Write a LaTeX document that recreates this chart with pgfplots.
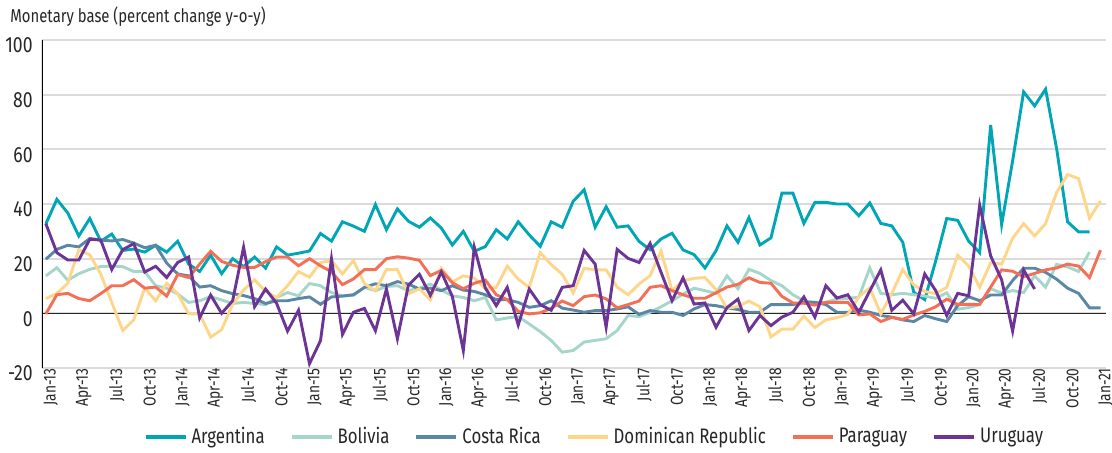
\documentclass[border=0pt]{standalone}
\usepackage{fontspec}
\setmainfont{Fira Sans}[FakeStretch=0.8]
\usepackage{pgfplots}
\usepackage{pgfplotstable}
\pgfplotsset{compat=1.18}

\definecolor{cArg}{HTML}{00A6B5}
\definecolor{cBol}{HTML}{A6D5CA}
\definecolor{cCR}{HTML}{5B87A5}
\definecolor{cDR}{HTML}{FDD68A}
\definecolor{cPar}{HTML}{F36F55}
\definecolor{cUru}{HTML}{6C3595}

% monthly, i=0 is Jan-13
\pgfplotstableread{
i arg bol cr dr par uru
0 32.7 13.7 19.8 5.4 -0.2 32.8
1 41.7 16.7 23.4 7.3 6.8 22.2
2 36.7 12.1 24.9 11 7.3 19.5
3 28.3 14.5 24.3 23.3 5.4 19.5
4 34.7 16.1 27.4 21.4 4.6 27.1
5 26.4 17.1 26.8 14.3 7.2 26.8
6 29 17.3 26.5 4 10.1 16
7 23 17.1 27 -6.3 10.1 23.3
8 23.5 15.3 25.7 -2.4 12.3 25.5
9 22.4 15.3 24 9.2 9.2 15.1
10 24.9 10.1 24.9 4.6 9.6 17.2
11 22.4 9.2 18.4 11 6.3 13.1
12 26.4 7.1 14.4 7.2 14.2 18.6
13 18 4 13.7 -0.2 13.1 20.6
14 15.3 4.6 9.6 -0.2 18 -1.7
15 21.3 6.1 10.1 -8.7 22.7 6.7
16 14.5 4.9 8.3 -6 19 0
17 20 3.6 7.2 3.3 17.6 4.6
18 17.1 4 6.5 8.5 16.8 24.2
19 20.6 3.6 5.4 12.3 16.8 2.4
20 16.5 3.2 3.6 8 18.9 8.9
21 24.3 5.8 4.6 5.8 20.6 3.7
22 21.3 7.6 4.6 10.1 20.6 -6.5
23 22 6.4 5.4 15.3 17.4 1.1
24 22.8 10.9 6 13.2 20 -18.4
25 29.2 10.1 3.3 18.6 17.4 -10
26 26.4 7.6 6 19.3 15.2 20
27 33.5 6.4 6.3 14.4 10.5 -7.7
28 31.9 6.6 6.8 19.3 12.6 0.4
29 30 9.5 9.5 10.8 16 1.8
30 39.8 8.3 10.8 8.3 16 -6.4
31 30.6 9.8 10.1 16 20 8.9
32 38.2 10.1 11.6 16 20.7 -9.3
33 33.7 8.3 10.7 7.1 20.2 10.3
34 31.5 9.2 8.9 9 19.4 14.3
35 34.9 10.7 9.2 4.9 13.8 6.6
36 31.2 8.5 8.3 16.5 15.7 15.1
37 25 6.4 10.1 11.5 11.2 6.2
38 30 5.8 8.5 13.7 9 -13.6
39 22.7 4.6 8 12.9 11 24.2
40 24.4 5.8 6.8 9 12.2 9.3
41 30.6 -2.4 5 9.5 6.8 2.8
42 27.2 -1.7 5 17.3 5 9.5
43 33.5 -1.2 4 12.5 0.7 -4.3
44 28.7 -3.9 2.2 9.5 -0.2 8.9
45 24.5 -6.7 2.8 22.2 0.2 3.2
46 33.5 -9.9 4.6 17.8 1.8 1.1
47 31.5 -14.2 1.9 14.3 4.5 9.5
48 41 -13.6 1.2 7.5 2.8 10.1
49 45.2 -10.5 0.4 16.5 6.1 23
50 31.5 -9.9 1 15.9 6.7 18
51 39 -9.3 1 15.9 5.3 -5.1
52 31.5 -6.3 1.6 9.6 2 23.4
53 32 -0.8 2.4 6.8 3.2 20.1
54 26.3 -1.2 -0.4 10.7 4.5 18.6
55 23.3 0.4 1 13.8 9.5 25.6
56 27.2 2.4 0.4 22.8 10.1 15
57 29.3 4.6 0.4 8.3 8.3 4.6
58 23.2 7 -0.8 11.9 6.8 13
59 21.5 9.2 1.6 12.8 5.5 3.4
60 16.6 8.3 3.2 13.1 5.5 3.8
61 22.9 7.3 2.8 8.7 7.5 -5.1
62 32 13.7 2 1.8 9.6 2.1
63 26 9 1.4 2.5 10.6 5.2
64 35 16.1 0.4 4.5 13 -6.3
65 25 14.6 0.4 2.4 11.3 -0.8
66 27.6 12 3.2 -8.6 11 -4.5
67 44 10.1 3.2 -5.8 6.2 -1.4
68 44 6.8 3.2 -5.8 3.8 0.4
69 32.9 4.6 4 -1 3.7 6
70 40.6 4 4 -5.2 3 -1.4
71 40.6 4 3.2 -2.4 4 10.1
72 40 5.2 0.4 -1.6 4 5.6
73 40 5.5 0.4 -0.4 4 6.8
74 35.7 5.9 1.2 6.1 -0.6 0.4
75 40.4 16.6 0.4 9.3 -0.2 8.2
76 32.9 7.3 -0.8 -0.2 -3 15.9
77 32 6.8 -1.4 7.3 -1.5 1.1
78 26 7.3 -2.4 16 -2.2 4.8
79 7.7 6.8 -3 10.4 -0.6 -0.2
80 5 6.3 -0.8 8 0.7 14.4
81 19.2 5.5 -2 7.2 2.4 8.3
82 34.7 7.5 -3 9.5 5.2 -0.8
83 34 1.5 2.8 21.3 3.3 7.3
84 26.4 2.1 6.1 17.3 3.3 6.4
85 22.2 3.2 4.6 9.5 3.3 39.6
86 68.9 9 6.7 18.5 9.6 21
87 32.5 7.4 6.7 18 15.9 12.3
88 55.8 8.3 12 27.5 15.4 -6.5
89 81 7.6 16.5 32.8 13.4 15.9
90 75.9 13.7 16.5 28.3 14.6 8.9
91 82 9.6 15 32.8 15.9 nan
92 60.4 17.9 12.5 44.2 16.6 nan
93 33.5 17 9.2 50.8 18 nan
94 29.8 15.3 7.3 49.3 17.3 nan
95 29.8 22.4 2 34.8 13.1 nan
96 nan nan 2 41.1 23.1 nan
}\mbase

\begin{document}
\begin{tikzpicture}
\useasboundingbox (-21pt,-42.5pt) rectangle (535pt,184pt);
\begin{axis}[
    at={(0,0)}, anchor=south west,
    scale only axis, width=532pt, height=164pt,
    xmin=-0.35, xmax=96.5, ymin=-20, ymax=100,
    axis line style={draw=none},
    major tick length=0pt,
    xtick={0,3,...,96},
    xticklabels={Jan-13,Apr-13,Jul-13,Oct-13,Jan-14,Apr-14,Jul-14,Oct-14,Jan-15,Apr-15,Jul-15,Oct-15,Jan-16,Apr-16,Jul-16,Oct-16,Jan-17,Apr-17,Jul-17,Oct-17,Jan-18,Apr-18,Jul-18,Oct-18,Jan-19,Apr-19,Jul-19,Oct-19,Jan-20,Apr-20,Jul-20,Oct-20,Jan-21},
    xticklabel style={rotate=90, anchor=east, inner sep=0pt, yshift=-2.5pt, font=\fontsize{8.6}{9}\selectfont, text=black!85},
    ytick={-20,0,20,40,60,80,100},
    yticklabels={-20,0,20,40,60,80,100},
    yticklabel style={anchor=east, inner sep=0pt, xshift=-4.5pt, yshift=-2.8pt, font=\fontsize{11}{12}\selectfont, text=black!85},
    ymajorgrids,
    major grid style={draw=black!14, line width=0.9pt},
    extra y ticks={0}, extra y tick labels={},
    extra y tick style={major grid style={draw=black!85, line width=0.5pt}},
    no markers,
    every axis plot/.append style={line width=1.45pt},
    legend columns=6,
    legend style={at={(0.52,-0.21)}, anchor=center, draw=none, fill=none,
        font=\fontsize{10.5}{11}\selectfont, text=black!85,
        /tikz/every even column/.append style={column sep=10.5pt}},
    legend image code/.code={\draw[#1, line width=2pt] (0pt,0pt) -- (20pt,0pt);},
]
\addplot[cArg] table[x=i, y=arg] {\mbase}; \addlegendentry{Argentina}
\addplot[cBol] table[x=i, y=bol] {\mbase}; \addlegendentry{Bolivia}
\addplot[cCR] table[x=i, y=cr] {\mbase}; \addlegendentry{Costa Rica}
\addplot[cDR] table[x=i, y=dr] {\mbase}; \addlegendentry{Dominican Republic}
\addplot[cPar] table[x=i, y=par] {\mbase}; \addlegendentry{Paraguay}
\addplot[cUru] table[x=i, y=uru] {\mbase}; \addlegendentry{Uruguay}
\draw[black, line width=0.8pt] (rel axis cs:0,0) -- (rel axis cs:0,1);
\end{axis}
\node[anchor=west, font=\fontsize{9.3}{10}\selectfont, text=black!85, inner sep=0pt] at (-16pt,175.5pt) {Monetary base (percent change y-o-y)};
\end{tikzpicture}
\end{document}
